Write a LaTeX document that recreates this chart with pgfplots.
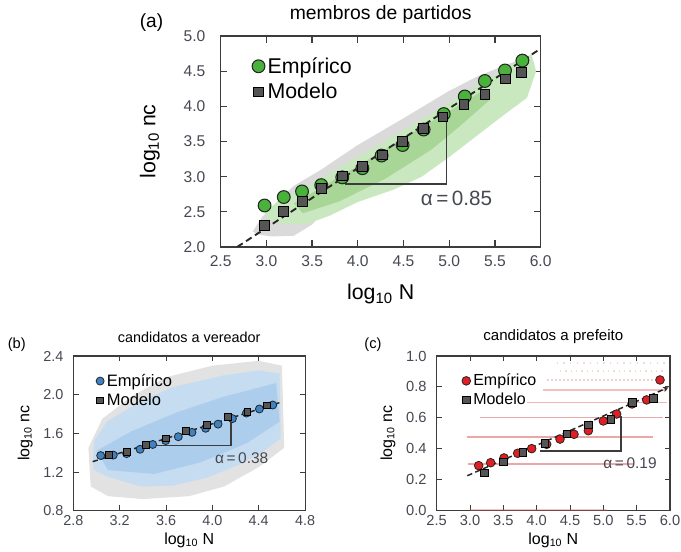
\documentclass[border=0pt]{standalone}
\usepackage{fontspec}
\setmainfont{Liberation Sans}
\usepackage{pgfplots}
\pgfplotsset{compat=1.18}
\usetikzlibrary{arrows.meta}
\definecolor{empg}{RGB}{72,178,58}
\definecolor{cloudgA}{RGB}{202,232,192}
\definecolor{cloudgB}{RGB}{168,214,150}
\definecolor{cloudgray}{RGB}{218,218,218}
\definecolor{modg}{RGB}{85,85,85}
\definecolor{empb}{RGB}{62,130,195}
\definecolor{cloudbA}{RGB}{198,220,241}
\definecolor{cloudbB}{RGB}{172,205,236}
\definecolor{cloudgrayb}{RGB}{226,226,226}
\definecolor{empr}{RGB}{225,30,35}
\definecolor{rowr}{RGB}{220,95,95}
\definecolor{tickc}{RGB}{70,72,82}
\definecolor{axc}{RGB}{60,60,60}
\newcommand{\fs}[1]{\fontsize{#1}{#1}\selectfont}
\pgfplotsset{panel/.style={scale only axis, anchor=south west,
  axis line style={axc, line width=1pt}, tick style={axc, line width=0.9pt},
  tick align=inside, tick pos=both, major tick length=5pt,
  /pgf/number format/assume math mode=true,
  /pgf/number format/fixed, /pgf/number format/fixed zerofill,
  /pgf/number format/precision=1,
  ticklabel style={text=tickc},
  legend cell align=left,
  legend image code/.code={\draw[##1] plot coordinates {(0cm,0cm)};},
  legend style={draw=none, fill=none, anchor=north west}},
  row/.style={rowr, line width=1.4pt, opacity=#1, forget plot}}
\begin{document}
\begin{tikzpicture}
\useasboundingbox (0,0) rectangle (510.75pt,414pt);
% ---------------- panel (a)
\begin{axis}[panel, at={(165.5pt,228.75pt)}, width=240pt, height=158.25pt,
  xmin=2.5, xmax=6, ymin=2, ymax=5,
  xtick={2.5,3.0,3.5,4.0,4.5,5.0,5.5,6.0}, ytick={2.0,2.5,3.0,3.5,4.0,4.5,5.0},
  ticklabel style={font=\fs{11.7}},
  yticklabel style={xshift=-8pt}, xticklabel style={yshift=-3pt},
  title={membros de partidos}, title style={font=\fs{14.5}, at={(axis description cs:0.5,1.066)}, anchor=center},
  xlabel={log\textsubscript{10} N}, ylabel={log\textsubscript{10} nc},
  label style={font=\fs{16}},
  xlabel style={at={(axis description cs:0.5,-0.223)}, anchor=center},
  ylabel style={at={(axis description cs:-0.221,0.5)}, anchor=center},
  legend style={at={(axis description cs:0.085,0.925)}, font=\fs{16}, row sep=2pt},
  extra description/.code={\node[font=\fs{14.3}] at (-0.216,1.063) {(a)};}]
\addplot[fill=cloudgray, draw=none, forget plot] coordinates {(2.85,2.22)(2.95,2.42)(3.1,2.62)(3.3,2.87)(3.6,3.1)(4.0,3.45)(4.5,3.83)(5.0,4.22)(5.3,4.42)(5.6,4.58)(5.85,4.7)(5.9,4.45)(5.5,4.15)(5.0,3.8)(4.5,3.4)(4.0,2.95)(3.7,2.6)(3.5,2.32)(3.3,2.16)(3.05,2.15)(2.9,2.18)} -- cycle;
\addplot[fill=cloudgA, draw=none, forget plot] coordinates {(2.98,2.5)(3.1,2.62)(3.3,2.78)(3.6,2.98)(4.0,3.28)(4.5,3.66)(5.0,4.05)(5.5,4.45)(5.9,4.74)(5.95,4.5)(5.85,4.12)(5.6,3.88)(5.3,3.58)(5.0,3.28)(4.7,3.0)(4.4,2.82)(4.0,2.64)(3.7,2.45)(3.45,2.33)(3.2,2.32)(3.0,2.4)} -- cycle;
\addplot[fill=cloudgB, draw=none, forget plot] coordinates {(3.3,2.62)(4.0,3.15)(4.5,3.55)(5.0,3.93)(5.4,4.25)(5.45,4.1)(5.1,3.7)(4.8,3.38)(4.3,2.97)(3.8,2.65)(3.4,2.48)} -- cycle;
\addplot[axc, line width=1.3pt, forget plot] coordinates {(3.86,2.90)(4.97,2.90)(4.97,3.89)};
\addplot[only marks, mark=*, mark size=4.8pt, mark options={fill=empg, draw=black!85, line width=0.8pt}] coordinates {
(2.98,2.59)(3.19,2.71)(3.39,2.79)(3.60,2.88)(3.83,2.99)(4.05,3.12)(4.26,3.30)(4.49,3.45)(4.72,3.67)(4.94,3.89)(5.17,4.14)(5.39,4.36)(5.61,4.51)(5.80,4.65)};
\addlegendentry{Empírico}
\addplot[only marks, mark=square*, mark size=3.7pt, mark options={fill=modg, draw=black, line width=0.6pt}] coordinates {
(2.98,2.31)(3.19,2.51)(3.39,2.65)(3.60,2.83)(3.83,3.01)(4.05,3.15)(4.27,3.31)(4.49,3.50)(4.72,3.69)(4.93,3.85)(5.16,4.03)(5.39,4.17)(5.61,4.39)(5.79,4.48)};
\addlegendentry{Modelo}
\addplot[black!85, line width=1.4pt, dash pattern=on 5pt off 3pt, forget plot] coordinates {(2.68,2.0)(6.0,4.82)};
\node[font=\fs{15.5}, text=tickc] at (axis cs:5.08,2.69) {α\,=\,0.85};
\end{axis}
% ---------------- panel (b)
\begin{axis}[panel, at={(55pt,31pt)}, width=173.8pt, height=116pt,
  xmin=2.8, xmax=4.8, ymin=0.8, ymax=2.4,
  xtick={2.8,3.2,3.6,4.0,4.4,4.8}, ytick={0.8,1.2,1.6,2.0,2.4},
  axis line style={line width=0.8pt}, tick style={line width=0.7pt}, major tick length=4pt,
  ticklabel style={font=\fs{10.8}}, yticklabel style={xshift=-4pt},
  title={candidatos a vereador}, title style={font=\fs{10.8}, at={(axis description cs:0.5,1.071)}, anchor=center},
  xlabel={log\textsubscript{10} N}, ylabel={log\textsubscript{10} nc},
  label style={font=\fs{12}},
  xlabel style={at={(axis description cs:0.5,-0.19)}, anchor=center},
  ylabel style={at={(axis description cs:-0.208,0.5)}, anchor=center},
  legend style={at={(axis description cs:0.08,0.92)}, font=\fs{12.4}},
  extra description/.code={\node[font=\fs{11}] at (-0.244,1.071) {(b)};}]
\addplot[fill=cloudgrayb, draw=none, forget plot] coordinates {(2.95,1.05)(2.93,1.45)(3.05,1.75)(3.3,1.98)(3.6,2.18)(4.0,2.3)(4.4,2.35)(4.6,2.3)(4.62,1.45)(4.4,1.25)(4.1,1.05)(3.8,0.95)(3.4,0.92)(3.1,0.95)} -- cycle;
\addplot[fill=cloudbA, draw=none, forget plot] coordinates {(2.97,1.28)(2.98,1.52)(3.09,1.72)(3.38,1.93)(3.66,2.08)(4.10,2.2)(4.40,2.25)(4.58,2.22)(4.59,1.55)(4.45,1.42)(4.24,1.28)(3.95,1.14)(3.66,1.06)(3.38,1.05)(3.1,1.15)(2.98,1.22)} -- cycle;
\addplot[fill=cloudbB, draw=none, forget plot] coordinates {(3.0,1.42)(3.3,1.62)(3.7,1.82)(4.1,1.98)(4.55,2.12)(4.58,1.72)(4.3,1.5)(3.9,1.3)(3.5,1.18)(3.1,1.22)} -- cycle;
\addplot[axc, line width=1.1pt, forget plot] coordinates {(3.476,1.472)(4.161,1.472)(4.161,1.79)};
\addplot[only marks, mark=*, mark size=3pt, mark options={fill=empb, draw=black!85, line width=0.6pt}] coordinates {
(3.036,1.37)(3.145,1.375)(3.26,1.39)(3.376,1.435)(3.485,1.485)(3.597,1.525)(3.706,1.565)(3.824,1.61)(3.942,1.652)(4.049,1.695)(4.173,1.752)(4.294,1.81)(4.406,1.852)(4.521,1.893)};
\addlegendentry{Empírico}
\addplot[only marks, mark=square*, mark size=2.5pt, mark options={fill=modg, draw=black, line width=0.5pt}] coordinates {
(3.105,1.376)(3.26,1.412)(3.424,1.478)(3.597,1.548)(3.77,1.627)(3.951,1.69)(4.132,1.772)(4.302,1.822)(4.469,1.89)};
\addlegendentry{Modelo}
\addplot[black!85, line width=1.1pt, dash pattern=on 4pt off 2.5pt, forget plot] coordinates {(2.967,1.307)(4.578,1.917)};
\node[font=\fs{11.6}, text=tickc] at (axis cs:4.253,1.348) {α\,=\,0.38};
\end{axis}
% ---------------- panel (c)
\begin{axis}[panel, at={(327.5pt,31pt)}, width=175pt, height=116pt,
  xmin=2.5, xmax=6.0, ymin=0, ymax=1.0,
  xtick={2.5,3.0,3.5,4.0,4.5,5.0,5.5,6.0}, ytick={0.0,0.2,0.4,0.6,0.8,1.0},
  axis line style={line width=0.8pt}, tick style={line width=0.7pt}, major tick length=4pt,
  ticklabel style={font=\fs{11}}, yticklabel style={xshift=-4pt},
  title={candidatos a prefeito}, title style={font=\fs{11.3}, at={(axis description cs:0.5,1.071)}, anchor=center},
  xlabel={log\textsubscript{10} N}, ylabel={log\textsubscript{10} nc},
  label style={font=\fs{12}},
  xlabel style={at={(axis description cs:0.5,-0.19)}, anchor=center},
  ylabel style={at={(axis description cs:-0.209,0.5)}, anchor=center},
  legend style={at={(axis description cs:0.09,0.92)}, font=\fs{12}},
  extra description/.code={\node[font=\fs{11}] at (-0.273,1.071) {(c)};}]
\addplot[row=0.55] coordinates {(2.97,0.30103)(5.45,0.30103)};
\addplot[row=0.55] coordinates {(2.95,0.47712)(5.75,0.47712)};
\addplot[row=0.55] coordinates {(3.15,0.60206)(5.9,0.60206)};
\addplot[row=0.45] coordinates {(3.85,0.69897)(5.95,0.69897)};
\addplot[row=0.4] coordinates {(4.1,0.77815)(5.95,0.77815)};
\addplot[row=0.3, dash pattern=on 1.5pt off 1.5pt] coordinates {(4.15,0.84510)(5.95,0.84510)};
\addplot[row=0.25, dash pattern=on 1pt off 3pt] coordinates {(4.35,0.90309)(5.95,0.90309)};
\addplot[row=0.25, dash pattern=on 1pt off 4pt] coordinates {(4.3,0.95424)(5.95,0.95424)};
\addplot[row=0.35, line width=2.2pt] coordinates {(3.0,0.0)(5.05,0.0)};
\addplot[axc, line width=1.1pt, forget plot] coordinates {(4.05,0.386)(5.265,0.386)(5.265,0.614)};
\addplot[only marks, mark=*, mark size=3.25pt, mark options={fill=empr, draw=black!85, line width=0.6pt}] coordinates {
(3.13,0.291)(3.31,0.310)(3.51,0.341)(3.715,0.371)(3.925,0.401)(4.15,0.429)(4.35,0.463)(4.56,0.494)(4.775,0.517)(5.0,0.580)(5.20,0.625)(5.43,0.690)(5.65,0.716)(5.85,0.845)};
\addlegendentry{Empírico}
\addplot[only marks, mark=square*, mark size=2.75pt, mark options={fill=modg, draw=black, line width=0.5pt}] coordinates {
(3.215,0.246)(3.5,0.317)(3.79,0.377)(4.125,0.435)(4.45,0.496)(4.775,0.554)(5.115,0.591)(5.435,0.70)(5.75,0.726)};
\addlegendentry{Modelo}
\addplot[black!85, line width=1.1pt, dash pattern=on 4pt off 2.5pt, -{Stealth[length=4pt,width=4pt]}, forget plot] coordinates {(2.96,0.226)(5.975,0.797)};
\node[font=\fs{11.6}, text=tickc] at (axis cs:5.40,0.306) {α\,=\,0.19};
\end{axis}
\end{tikzpicture}
\end{document}
